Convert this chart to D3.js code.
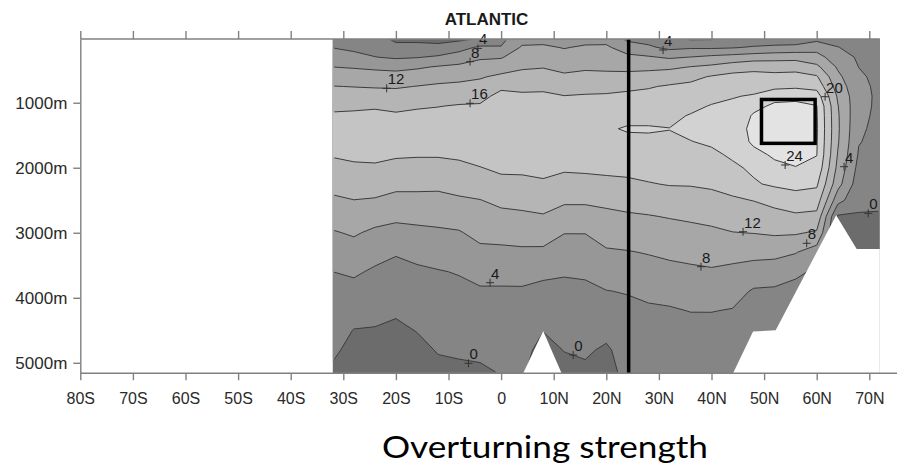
<!DOCTYPE html>
<html>
<head>
<meta charset="utf-8">
<script src="https://cdn.jsdelivr.net/npm/d3@7"></script>
<style>
  body { margin: 0; background: #fff; }
  svg { display: block; font-family: "Liberation Sans", Arial, sans-serif; }
</style>
</head>
<body>
<div id="vis"></div>
<script>
const frame_width = 897;
const frame_height = 466;

// grid: latitude of each column, depth (m) of each row
const lats = [-32, -28, -24, -20, -16, -12, -8, -4, 0, 4, 8, 12, 16, 20, 24, 28, 32, 36, 40, 44, 48, 52, 56, 60, 64, 68, 72];
const depths = [20, 150, 300, 450, 600, 750, 900, 1050, 1200, 1400, 1600, 1800, 2000, 2250, 2500, 2750, 3000, 3300, 3600, 3900, 4200, 4500, 4800, 5160];

// overturning streamfunction (Sv), one list per latitude column, surface to bottom
const psi = [
  [2.5, 3.9, 5.9, 8.0, 10.0, 12.1, 13.6, 15.2, 16.5, 17.6, 17.5, 16.3, 14.9, 13.2, 11.4, 9.5, 7.7, 5.9, 4.0, 3.1, 2.3, 1.4, 0.5, -0.5],
  [2.0, 3.2, 5.1, 7.7, 9.8, 11.9, 13.7, 15.5, 16.5, 17.5, 17.5, 16.6, 15.5, 13.7, 11.95, 10.2, 8.4, 6.5, 4.5, 2.9, 1.4, -0.1, -0.8, -1.5],
  [1.0, 2.5, 4.1, 7.3, 9.6, 11.7, 13.7, 15.7, 16.6, 17.6, 17.6, 16.7, 15.6, 13.7, 11.7, 9.4, 7.3, 5.2, 3.5, 2.2, 0.9, -0.2, -0.8, -1.5],
  [-0.5, 0.7, 3.5, 6.9, 9.5, 11.6, 13.5, 15.3, 16.4, 17.5, 17.5, 16.4, 15.0, 13.0, 10.9, 8.8, 6.7, 4.3, 2.9, 1.7, 0.4, -0.6, -1.0, -1.5],
  [-0.5, 0.7, 3.8, 7.5, 9.9, 12.1, 13.9, 15.7, 16.6, 17.6, 17.4, 16.3, 14.8, 12.9, 11.0, 9.0, 7.1, 5.0, 3.4, 2.3, 1.2, 0.1, -0.8, -1.5],
  [-0.8, 0.7, 4.6, 8.3, 10.5, 12.6, 14.3, 15.9, 16.8, 17.8, 17.6, 16.3, 14.8, 12.8, 11.0, 9.2, 7.4, 5.5, 3.8, 2.9, 2.0, 1.1, 0.2, -0.8],
  [-0.8, 2.5, 5.9, 8.8, 10.9, 12.9, 14.9, 16.2, 16.8, 17.6, 17.6, 16.5, 15.3, 13.4, 11.5, 9.6, 7.7, 6.0, 4.2, 3.2, 2.3, 1.3, 0.4, -0.6],
  [0.3, 4.7, 7.5, 9.5, 11.6, 13.3, 15.1, 16.3, 16.9, 17.7, 17.8, 17.1, 15.9, 14.0, 11.9, 10.6, 9.1, 7.1, 5.1, 3.6, 2.6, 1.6, 0.6, -0.5],
  [3.0, 4.2, 7.7, 10.1, 12.8, 15.4, 16.9, 17.6, 18.0, 18.3, 18.3, 17.8, 16.6, 15.1, 12.9, 11.0, 9.3, 7.2, 5.1, 3.6, 2.8, 1.9, 1.0, 0.1],
  [6.5, 8.5, 10.0, 11.5, 13.3, 15.1, 16.6, 17.4, 18.0, 18.6, 18.5, 17.8, 16.7, 15.1, 13.2, 11.3, 9.5, 7.4, 5.2, 3.6, 2.7, 1.8, 1.0, 0.3],
  [6.8, 8.6, 10.2, 11.8, 13.5, 15.3, 16.6, 17.5, 18.2, 18.8, 18.7, 18.0, 17.0, 15.5, 13.6, 11.7, 9.7, 7.3, 4.8, 3.0, 1.5, 0.1, -1.0, -1.5],
  [6.5, 7.8, 9.4, 11.0, 12.6, 14.4, 16.1, 17.0, 17.8, 18.5, 18.3, 17.5, 16.5, 14.7, 12.6, 10.4, 8.1, 6.2, 4.3, 3.2, 2.1, 1.1, 0.1, -1.0],
  [6.8, 8.5, 10.1, 11.5, 12.9, 14.8, 16.3, 17.1, 17.8, 18.5, 18.3, 17.6, 16.6, 14.9, 12.6, 10.4, 8.1, 6.3, 4.5, 3.3, 2.3, 1.4, 0.5, -0.7],
  [6.8, 8.6, 10.0, 11.3, 12.9, 14.9, 16.4, 17.4, 18.3, 19.6, 19.2, 18.2, 17.0, 14.9, 12.9, 11.1, 9.4, 7.6, 5.7, 3.9, 2.5, 1.0, -0.5, -1.0],
  [3.2, 6.1, 8.9, 11.0, 13.1, 15.1, 16.9, 18.0, 19.0, 20.3, 19.2, 18.3, 17.0, 15.3, 13.4, 11.5, 9.9, 7.8, 6.0, 4.2, 3.1, 2.2, 1.5, 0.8],
  [2.5, 4.7, 8.4, 11.0, 13.6, 15.7, 17.0, 18.0, 19.0, 20.3, 19.4, 18.5, 17.3, 15.8, 13.7, 11.8, 10.2, 8.2, 6.6, 4.9, 3.4, 2.4, 1.6, 0.8],
  [1.8, 3.0, 7.5, 11.3, 14.0, 16.4, 17.5, 18.5, 19.3, 20.05, 19.6, 18.9, 17.9, 16.2, 14.2, 12.2, 10.6, 8.7, 7.0, 5.3, 3.6, 2.5, 1.7, 0.9],
  [-0.5, 3.5, 8.1, 12.1, 15.0, 16.8, 18.0, 19.2, 20.2, 20.8, 19.9, 18.9, 17.8, 16.3, 14.1, 12.6, 10.9, 9.1, 7.3, 5.6, 4.1, 2.7, 1.8, 1.0],
  [-0.3, 3.4, 8.9, 12.8, 16.3, 17.7, 19.0, 20.2, 21.0, 21.3, 20.5, 19.3, 18.1, 16.7, 14.6, 12.9, 11.4, 9.4, 7.6, 5.8, 4.1, 2.8, 1.9, 1.0],
  [1.0, 3.7, 9.5, 14.0, 17.2, 18.3, 19.8, 20.6, 21.3, 22.0, 21.8, 20.5, 19.4, 17.4, 15.5, 13.7, 11.9, 9.3, 7.1, 5.4, 3.8, 2.6, 1.8, 1.0],
  [1.5, 4.4, 10.1, 15.0, 17.1, 18.8, 20.3, 23.0, 24.4, 25.0, 24.6, 23.0, 20.6, 19.6, 16.1, 14.0, 12.1, 9.3, 6.2, 3.6, 2.0, 1.0, 0.5, 0.5],
  [1.5, 4.9, 10.5, 14.6, 17.0, 18.9, 22.9, 24.6, 25.3, 25.6, 25.3, 24.5, 23.2, 20.6, 17.2, 14.7, 12.5, 9.1, 6.0, 3.4, 1.5, 0.4, -0.5, -1.0],
  [1.5, 5.2, 10.7, 14.6, 17.3, 19.3, 23.1, 24.8, 25.4, 25.8, 25.5, 24.9, 23.9, 21.3, 18.1, 15.4, 12.4, 8.2, 5.2, 2.0, 0.5, -0.5, -1.0, -1.0],
  [3.0, 6.5, 9.5, 12.9, 16.4, 18.7, 22.0, 24.1, 24.3, 24.4, 24.3, 24.1, 23.0, 20.6, 18.0, 14.9, 11.5, 6.0, 3.0, 1.0, 0.5, -0.5, -1.0, -1.0],
  [3.0, 4.1, 5.8, 7.5, 8.9, 10.2, 11.5, 12.2, 12.5, 12.6, 12.4, 11.8, 11.0, 9.5, 5.5, -0.5, -1.0, -1.0, -1.0, -1.0, -1.0, -1.0, -1.0, -1.0],
  [2.5, 3.0, 3.5, 3.95, 4.6, 5.0, 5.2, 5.1, 4.9, 4.6, 4.2, 3.6, 2.8, 1.8, 0.9, -0.3, -0.8, -1.0, -1.0, -1.0, -1.0, -1.0, -1.0, -1.0],
  [2.0, 2.2, 2.5, 2.8, 3.0, 3.2, 3.3, 3.3, 3.2, 3.0, 2.8, 2.4, 2.0, 1.3, 0.6, -0.3, -0.8, -1.0, -1.0, -1.0, -1.0, -1.0, -1.0, -1.0]
];

const levels = [0, 4, 8, 12, 16, 20, 24];
const band_colors = ["#6c6c6c", "#858585", "#979797", "#a7a7a7", "#b5b5b5", "#c4c4c4", "#d2d2d2", "#e3e3e3"];

const x_ticks = [-80, -70, -60, -50, -40, -30, -20, -10, 0, 10, 20, 30, 40, 50, 60, 70];
const x_tick_labels = ["80S", "70S", "60S", "50S", "40S", "30S", "20S", "10S", "0", "10N", "20N", "30N", "40N", "50N", "60N", "70N"];
const y_ticks = [1000, 2000, 3000, 4000, 5000];

// sea floor (white) in the north and a seamount near the equator
const ridge_lat = [44.1, 47.9, 52.2, 63.7, 67.6, 72];
const ridge_depth = [5160, 4520, 4500, 2730, 3250, 3250];
const seamount_lat = [4.2, 8.0, 11.5];
const seamount_depth = [5160, 4510, 5160];

// black section line and box
const section_lat = 24.25;
const box_lat = [49.5, 59.7];
const box_depth = [950, 1625];

// contour labels
const label_lat = [-21.75, -5.9, -5.9, -4.4, 30.8, 61.6, 54.0, 65.2, 69.8, 46.0, 58.1, 38.0, -2.1, -6.2, 13.7];
const label_depth = [778, 369, 1009, 165, 189, 907, 1958, 1984, 2701, 2984, 3162, 3522, 3768, 5008, 4880];
const label_text = ["12", "8", "16", "4", "4", "20", "24", "4", "0", "12", "8", "8", "4", "0", "0"];

const svg = d3.select("#vis")
  .append("svg")
    .attr("width", frame_width)
    .attr("height", frame_height);

const x_scale = d3.scaleLinear().domain([-80, 70]).range([80.3, 869.3]);
const y_scale = d3.scaleLinear().domain([20, 5160]).range([39, 373.2]);

const lat_min = lats[0], lat_max = lats[lats.length - 1];
const dep_min = depths[0], dep_max = depths[depths.length - 1];

// contour grid -> lat / depth
const n = lats.length, m = depths.length;
const values = new Array(n * m);
for (let j = 0; j < m; j++) {
  for (let i = 0; i < n; i++) values[j * n + i] = psi[i][j];
}
const lat_at = d3.scaleLinear().domain(lats.map((d, i) => i + 0.5)).range(lats).clamp(true);
const dep_at = d3.scaleLinear().domain(depths.map((d, j) => j + 0.5)).range(depths).clamp(true);

const to_screen = d3.geoTransform({
  point: function(cx, cy) {
    this.stream.point(x_scale(lat_at(cx)), y_scale(dep_at(cy)));
  }
});
const path = d3.geoPath(to_screen);

const bands = d3.contours().size([n, m]).thresholds(levels)(values);

const defs = svg.append("defs");
defs.append("clipPath").attr("id", "inner")
  .append("rect")
    .attr("x", x_scale(lat_min) + 1.5)
    .attr("y", y_scale(dep_min) + 1.5)
    .attr("width", x_scale(lat_max) - x_scale(lat_min) - 3)
    .attr("height", y_scale(dep_max) - y_scale(dep_min) - 3);

// lowest band underneath
svg.append("rect")
  .attr("x", x_scale(lat_min))
  .attr("y", y_scale(dep_min))
  .attr("width", x_scale(lat_max) - x_scale(lat_min))
  .attr("height", y_scale(dep_max) - y_scale(dep_min))
  .attr("fill", band_colors[0]);

svg.append("g")
  .selectAll("path")
  .data(bands)
  .join("path")
    .attr("d", path)
    .attr("fill", (d, i) => band_colors[i + 1]);

svg.append("g")
  .attr("clip-path", "url(#inner)")
  .selectAll("path")
  .data(bands)
  .join("path")
    .attr("d", path)
    .attr("fill", "none")
    .attr("stroke", "#3c3c3c")
    .attr("stroke-width", 1)
    .attr("stroke-linejoin", "round");

// sea floor mask
const floor = d3.area()
  .x(d => x_scale(d[0]))
  .y0(y_scale(dep_max) + 1)
  .y1(d => y_scale(d[1]));

svg.append("path")
  .attr("d", floor(ridge_lat.map((d, i) => [d, ridge_depth[i]])))
  .attr("fill", "#fff");
svg.append("path")
  .attr("d", floor(seamount_lat.map((d, i) => [d, seamount_depth[i]])))
  .attr("fill", "#fff");

// labels with + marks
const labels = svg.append("g")
  .selectAll("g")
  .data(label_text)
  .join("g")
    .attr("transform", (d, i) => "translate(" + x_scale(label_lat[i]) + "," + y_scale(label_depth[i]) + ")");

labels.append("path")
  .attr("d", "M-4,0H4M0,-4V4")
  .attr("stroke", "#333")
  .attr("stroke-width", 1);

labels.append("text")
  .attr("x", 1)
  .attr("y", -4)
  .attr("font-size", "15px")
  .attr("fill", "#1a1a1a")
  .text(d => d);

// section line and box
svg.append("line")
  .attr("x1", x_scale(section_lat))
  .attr("x2", x_scale(section_lat))
  .attr("y1", y_scale(dep_min))
  .attr("y2", y_scale(dep_max))
  .attr("stroke", "#000")
  .attr("stroke-width", 3.5);

svg.append("rect")
  .attr("x", x_scale(box_lat[0]))
  .attr("y", y_scale(box_depth[0]))
  .attr("width", x_scale(box_lat[1]) - x_scale(box_lat[0]))
  .attr("height", y_scale(box_depth[1]) - y_scale(box_depth[0]))
  .attr("fill", "none")
  .attr("stroke", "#000")
  .attr("stroke-width", 3.5);

// axes
const axis_color = "#808080";

const x_axis = svg.append("g")
  .attr("transform", "translate(0," + y_scale(dep_max) + ")")
  .call(d3.axisBottom(x_scale)
    .tickValues(x_ticks)
    .tickFormat((d, i) => x_tick_labels[i])
    .tickSize(7)
    .tickPadding(12)
    .tickSizeOuter(0));
x_axis.select(".domain").attr("d", "M" + x_scale(-80) + ",0H" + frame_width);

const top_axis = svg.append("g")
  .attr("transform", "translate(0," + y_scale(dep_min) + ")")
  .call(d3.axisTop(x_scale)
    .tickValues(x_ticks)
    .tickFormat("")
    .tickSize(8)
    .tickSizeOuter(0));
top_axis.select(".domain").attr("d", "M" + x_scale(-80) + ",0H" + x_scale(lat_max));

const y_axis = svg.append("g")
  .attr("transform", "translate(" + x_scale(-80) + ",0)")
  .call(d3.axisLeft(y_scale)
    .tickValues(y_ticks)
    .tickFormat(d => d + "m")
    .tickSize(7)
    .tickPadding(6)
    .tickSizeOuter(0));

svg.selectAll(".domain, .tick line")
  .attr("stroke", axis_color)
  .attr("stroke-width", 1.4);

x_axis.selectAll("text").attr("font-size", "16px").attr("fill", "#2a2a2a").attr("font-family", null);
y_axis.selectAll("text").attr("font-size", "17px").attr("fill", "#2a2a2a").attr("font-family", null);
svg.selectAll(".tick text").style("font-family", "'Liberation Sans', Arial, sans-serif");

// titles
svg.append("text")
  .attr("x", 486.5)
  .attr("y", 25)
  .attr("text-anchor", "middle")
  .attr("font-size", "17px")
  .attr("font-weight", "bold")
  .attr("fill", "#1a1a1a")
  .text("ATLANTIC");

svg.append("text")
  .attr("x", 545)
  .attr("y", 458)
  .attr("text-anchor", "middle")
  .attr("font-size", "31px")
  .attr("textLength", 326)
  .attr("lengthAdjust", "spacingAndGlyphs")
  .style("font-family", "Lato, 'Open Sans', sans-serif")
  .attr("fill", "#000")
  .text("Overturning strength");
</script>
</body>
</html>
